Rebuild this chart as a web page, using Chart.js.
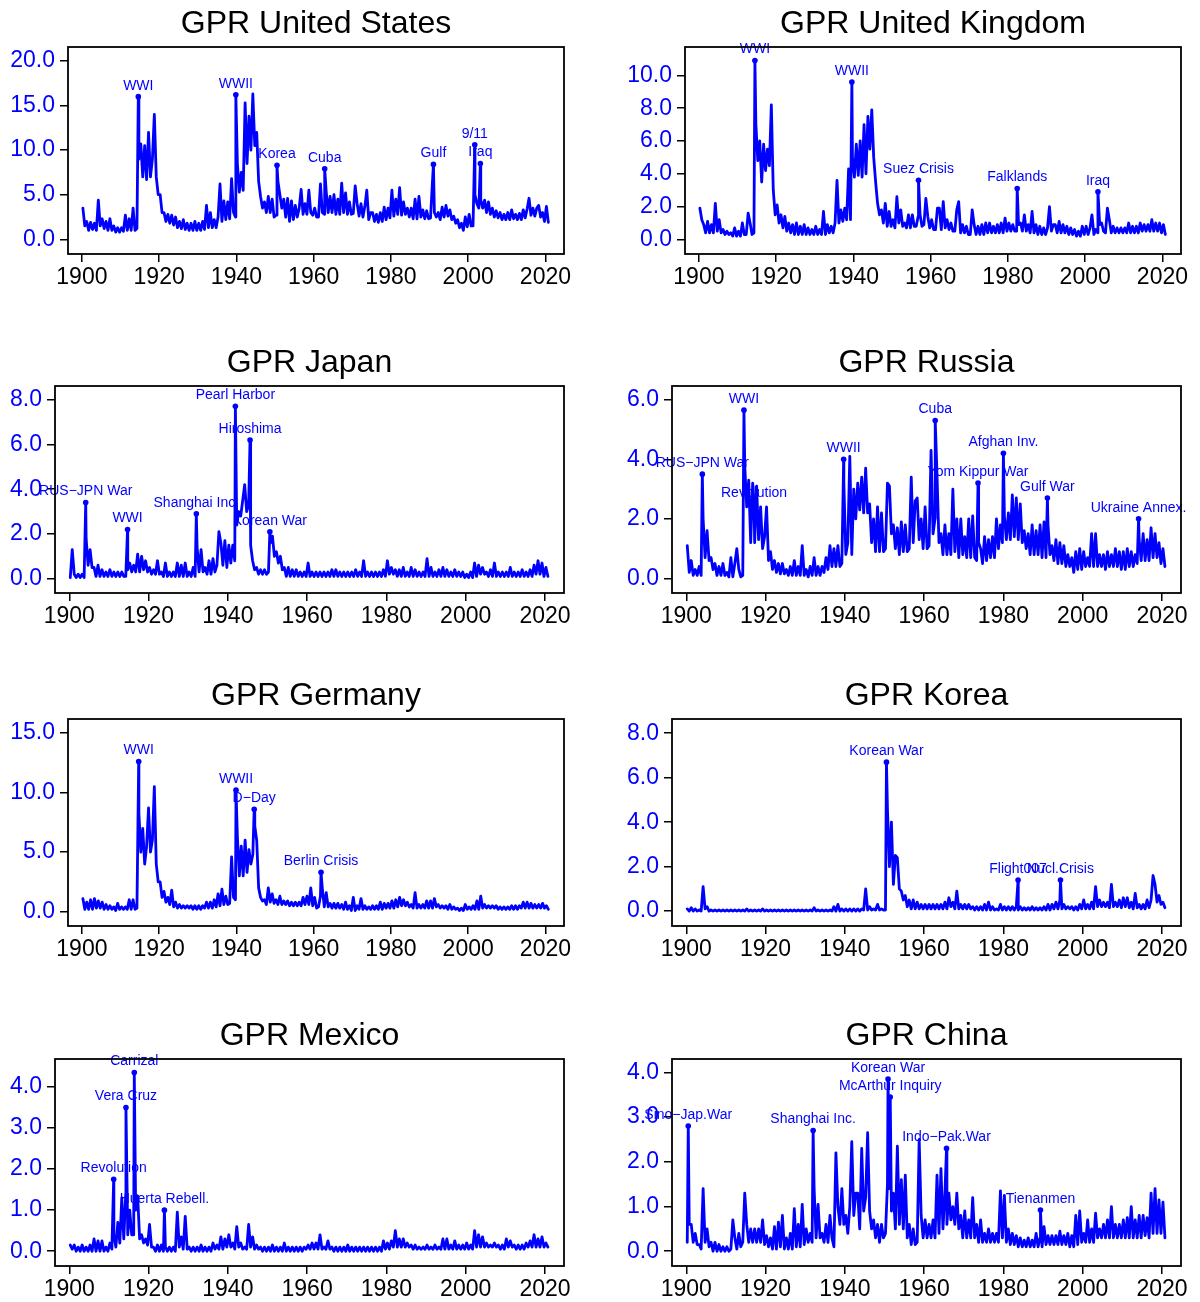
<!DOCTYPE html>
<html>
<head>
<meta charset="utf-8">
<script src="https://cdn.jsdelivr.net/npm/chart.js@4.4.1/dist/chart.umd.min.js"></script>
<style>
  body { margin: 0; background: #fff; width: 1200px; height: 1302px; position: relative; overflow: hidden; }
  canvas { position: absolute; }
</style>
</head>
<body>
<script>
// GPR indices, 1900-2020, two readings per year (first half, second half)
const firstYear = 1900;
const xTicks = [1900, 1920, 1940, 1960, 1980, 2000, 2020];

const gprUS = [
  3.5,1.5, 2.0,1.0, 1.9,1.1, 1.8,1.0, 4.4,1.5, 2.3,1.2, 2.0,1.0, 2.3,1.0, 1.5,0.8, 1.3,0.8,
  1.3,0.9, 2.7,1.0, 2.3,1.0, 3.5,1.0, 1.2,9.0, 10.7,7.0, 10.5,6.7, 12.0,7.0, 9.0,14.0, 7.0,5.0,
  5.0,3.0, 3.0,2.0, 2.8,1.8, 2.7,1.6, 2.5,1.3, 2.0,1.2, 2.2,1.1, 1.8,1.0, 1.8,1.0, 2.0,1.0,
  1.8,1.0, 2.0,1.1, 3.8,1.3, 3.0,1.3, 2.2,1.3, 2.5,6.2, 2.0,4.3, 2.2,4.2, 2.3,6.8, 3.0,2.5,
  8.5,5.3, 7.5,5.5, 15.3,8.5, 13.8,10.0, 16.3,10.5, 12.0,6.5, 4.8,3.5, 4.2,3.0, 4.8,3.0, 4.5,2.5,
  2.7,6.5, 5.0,3.5, 4.5,2.5, 4.6,2.0, 4.3,2.2, 3.8,2.5, 3.5,5.6, 2.8,4.0, 2.8,5.5, 3.0,2.7,
  3.5,2.5, 2.5,6.2, 3.0,2.8, 5.3,3.0, 4.8,3.0, 5.0,2.8, 4.5,2.8, 6.3,3.0, 5.2,2.8, 4.2,2.8,
  2.9,6.0, 4.0,2.6, 4.0,2.5, 3.7,5.5, 2.2,3.0, 3.0,2.0, 2.8,1.9, 3.0,2.0, 3.6,2.2, 3.5,2.4,
  5.5,2.6, 4.5,2.8, 5.8,2.7, 4.2,2.8, 3.5,2.5, 3.5,2.3, 4.5,2.3, 4.8,2.5, 3.3,2.3, 3.2,2.3,
  2.4,6.5, 3.0,2.5, 3.0,2.2, 3.6,2.5, 3.8,2.6, 3.3,2.2, 2.6,1.8, 2.2,1.3, 1.8,1.0, 2.5,1.4,
  2.8,1.5, 1.5,5.0, 4.0,3.5, 4.4,3.5, 4.4,3.0, 4.2,2.8, 3.5,2.5, 3.2,2.4, 3.0,2.2, 2.8,2.2,
  3.0,2.2, 3.3,2.3, 2.8,2.2, 2.9,2.2, 3.3,2.4, 3.4,4.6, 2.7,3.5, 2.6,3.5, 3.8,2.5, 3.0,2.0,
  3.7,1.9
];
const evUS = [['WWI',1914.6,16.0], ['WWII',1939.85,16.2], ['Korea',1950.5,8.3], ['Cuba',1962.85,7.9],
  ['Gulf',1991.0,8.4], ['9/11',2001.7,10.6], ['Iraq',2003.15,8.5]];
const yTicksUS = [0, 5, 10, 15, 20];

const gprUK = [
  1.9,1.2, 0.9,0.4, 1.1,0.4, 0.9,0.4, 2.2,0.5, 1.2,0.4, 0.6,0.3, 0.5,0.3, 0.4,0.2, 0.7,0.2,
  0.5,0.2, 1.0,0.3, 0.3,1.6, 1.0,0.3, 0.4,7.0, 4.8,6.0, 3.5,5.8, 4.2,5.5, 4.5,8.2, 3.0,1.5,
  2.1,1.0, 1.5,0.7, 1.4,0.5, 1.0,0.4, 0.9,0.3, 1.0,0.3, 0.8,0.3, 0.9,0.3, 0.7,0.3, 0.6,0.3,
  0.8,0.3, 0.6,0.3, 1.7,0.3, 0.9,0.4, 0.8,0.4, 1.0,3.6, 1.0,1.8, 1.1,1.9, 1.2,4.3, 1.2,5.0,
  3.8,5.8, 3.9,6.0, 3.8,7.0, 4.0,7.5, 5.5,7.9, 5.0,3.5, 2.2,1.5, 1.8,1.0, 2.2,0.8, 1.7,0.8,
  1.2,0.7, 2.6,1.0, 1.8,0.8, 1.0,0.7, 1.5,0.7, 1.5,0.8, 0.8,1.4, 1.5,0.8, 0.9,2.5, 1.4,0.7,
  1.2,0.6, 0.6,1.9, 1.9,0.6, 2.3,0.7, 1.2,0.6, 1.0,0.5, 0.5,1.8, 2.3,0.4, 0.9,0.4, 0.8,0.3,
  0.3,1.8, 0.9,0.3, 0.8,0.3, 0.9,0.3, 1.0,0.4, 1.0,0.4, 0.8,0.4, 0.9,0.4, 1.0,0.4, 1.3,0.5,
  1.0,0.5, 0.9,0.5, 0.5,0.9, 1.0,0.5, 1.5,0.5, 0.9,0.4, 1.7,0.4, 0.9,0.3, 0.8,0.3, 0.7,0.3,
  0.7,2.0, 0.5,0.9, 0.9,0.4, 1.1,0.4, 0.9,0.4, 0.8,0.3, 0.7,0.3, 0.6,0.2, 0.5,0.2, 0.8,0.3,
  0.8,0.3, 0.7,1.5, 0.3,0.6, 0.4,0.9, 1.0,0.5, 0.4,1.9, 1.2,0.4, 0.8,0.4, 0.7,0.4, 0.7,0.4,
  0.7,0.4, 1.0,0.4, 0.8,0.4, 0.8,0.4, 1.0,0.5, 0.9,0.5, 0.9,0.5, 1.2,0.5, 1.0,0.5, 1.0,0.4,
  0.9,0.3
];
const evUK = [['WWI',1914.5,10.9], ['WWII',1939.6,9.6], ['Suez Crisis',1956.85,3.6],
  ['Falklands',1982.4,3.1], ['Iraq',2003.3,2.9]];
const yTicksUK = [0, 2, 4, 6, 8, 10];

const gprJP = [
  0.05,1.3, 0.2,0.05, 0.2,0.05, 0.2,0.05, 1.8,0.6, 1.3,0.5, 0.5,0.1, 0.6,0.1, 0.4,0.1, 0.3,0.1,
  0.4,0.1, 0.3,0.1, 0.3,0.1, 0.3,0.1, 0.1,0.4, 0.7,0.3, 0.6,0.3, 1.1,0.3, 1.0,0.4, 0.8,0.3,
  0.5,0.2, 0.4,0.2, 0.8,0.2, 0.3,0.1, 0.7,0.1, 0.3,0.1, 0.3,0.1, 0.7,0.1, 0.6,0.1, 0.7,0.1,
  0.3,0.1, 0.5,0.1, 1.4,0.3, 1.3,0.3, 0.5,0.2, 0.8,0.2, 0.9,0.3, 0.6,2.1, 1.6,0.6, 1.7,0.5,
  1.5,0.7, 1.5,0.8, 2.4,3.0, 2.8,3.5, 4.2,3.0, 3.3,1.5, 0.8,0.4, 0.5,0.2, 0.4,0.2, 0.4,0.2,
  0.3,1.6, 1.9,1.0, 1.2,0.7, 1.0,0.4, 0.5,0.1, 0.5,0.1, 0.4,0.1, 0.4,0.1, 0.3,0.1, 0.3,0.1,
  0.7,0.1, 0.3,0.1, 0.3,0.1, 0.3,0.1, 0.3,0.1, 0.3,0.1, 0.4,0.1, 0.4,0.1, 0.3,0.1, 0.3,0.1,
  0.3,0.1, 0.3,0.1, 0.4,0.1, 0.3,0.1, 0.8,0.1, 0.3,0.1, 0.3,0.1, 0.3,0.1, 0.3,0.1, 0.4,0.1,
  0.8,0.2, 0.5,0.2, 0.4,0.1, 0.4,0.1, 0.5,0.1, 0.3,0.1, 0.5,0.1, 0.4,0.1, 0.3,0.1, 0.3,0.1,
  0.9,0.1, 0.5,0.1, 0.3,0.1, 0.4,0.1, 0.5,0.1, 0.4,0.1, 0.3,0.1, 0.4,0.1, 0.3,0.1, 0.3,0.05,
  0.2,0.05, 0.3,0.05, 0.7,0.1, 0.6,0.2, 0.5,0.2, 0.3,0.1, 0.4,0.1, 0.7,0.1, 0.3,0.1, 0.3,0.1,
  0.3,0.1, 0.5,0.1, 0.3,0.1, 0.3,0.1, 0.4,0.1, 0.3,0.1, 0.4,0.1, 0.6,0.2, 0.8,0.2, 0.7,0.1,
  0.5,0.1
];
const evJP = [['RUS\u2212JPN War',1904.15,3.4], ['WWI',1914.7,2.2], ['Shanghai Inc.',1932.05,2.9],
  ['Pearl Harbor',1941.9,7.7], ['Hiroshima',1945.6,6.2], ['Korean War',1950.6,2.1]];
const yTicksJP = [0, 2, 4, 6, 8];

const gprRU = [
  1.1,0.2, 0.6,0.1, 0.3,0.1, 0.4,0.1, 2.0,0.7, 1.6,0.6, 0.7,0.3, 0.5,0.1, 0.4,0.1, 0.5,0.1,
  0.2,0.05, 0.7,0.05, 0.5,1.0, 0.3,0.05, 0.1,3.8, 2.4,3.3, 1.2,3.2, 1.2,3.1, 1.3,2.4, 1.0,1.4,
  2.4,0.6, 0.9,0.3, 0.6,0.2, 0.5,0.15, 0.5,0.15, 0.3,0.1, 0.4,0.1, 0.6,0.1, 0.4,0.1, 1.1,0.1,
  0.3,0.05, 0.4,0.1, 0.7,0.1, 0.4,0.1, 0.4,0.2, 0.7,0.3, 1.1,0.4, 1.0,0.4, 1.1,0.4, 0.5,3.2,
  0.8,1.2, 4.1,0.8, 3.0,2.0, 3.2,2.3, 3.4,2.2, 3.7,2.2, 2.5,1.2, 2.0,0.9, 2.4,0.9, 2.2,0.9,
  1.0,3.2, 3.1,1.5, 1.8,1.0, 1.7,0.8, 1.9,0.9, 1.8,0.9, 1.0,3.4, 1.2,2.6, 2.7,1.3, 2.0,1.0,
  2.4,1.0, 1.1,4.3, 1.5,2.0, 3.5,1.2, 1.5,0.8, 1.8,0.8, 1.5,0.8, 3.0,0.9, 2.0,0.7, 2.0,0.8,
  1.4,0.7, 2.0,0.7, 2.1,0.7, 0.6,1.2, 1.0,0.5, 1.4,0.6, 1.3,0.7, 1.4,0.7, 2.0,1.0, 1.8,1.2,
  2.1,1.3, 2.2,1.3, 2.8,1.4, 2.7,1.3, 2.5,1.2, 1.6,1.0, 1.5,0.8, 1.8,0.8, 1.6,0.8, 1.8,0.7,
  1.9,0.7, 1.8,0.8, 1.1,0.6, 1.3,0.5, 1.2,0.5, 1.1,0.4, 0.8,0.4, 0.7,0.2, 0.9,0.3, 1.0,0.3,
  0.9,0.4, 0.7,0.4, 1.5,0.4, 1.5,0.4, 0.8,0.4, 0.8,0.3, 0.9,0.4, 0.8,0.4, 1.0,0.4, 0.9,0.3,
  0.9,0.3, 1.0,0.4, 0.9,0.4, 0.8,0.5, 1.3,0.6, 1.5,0.6, 1.3,0.6, 1.7,0.7, 1.5,0.7, 1.2,0.5,
  1.0,0.4
];
const evRU = [['RUS\u2212JPN War',1904.05,3.5], ['WWI',1914.55,5.65], ['Revolution',1917.1,2.5],
  ['WWII',1939.7,4.0], ['Cuba',1962.8,5.3], ['Yom Kippur War',1973.6,3.2], ['Afghan Inv.',1980.0,4.2],
  ['Gulf War',1991.1,2.7], ['Ukraine Annex.',2014.1,2.0]];
const yTicksRU = [0, 2, 4, 6];

const gprDE = [
  1.1,0.2, 0.8,0.2, 1.0,0.2, 1.1,0.3, 0.9,0.3, 0.8,0.2, 0.6,0.2, 0.5,0.2, 0.4,0.1, 0.7,0.2,
  0.4,0.2, 0.4,0.2, 1.0,0.2, 1.0,0.2, 0.3,8.3, 5.0,7.0, 4.0,5.5, 8.7,5.0, 6.0,10.5, 4.0,2.5,
  2.5,1.2, 1.7,0.8, 1.2,0.6, 1.8,0.4, 0.8,0.3, 0.6,0.3, 0.5,0.3, 0.5,0.3, 0.5,0.2, 0.5,0.2,
  0.5,0.2, 0.5,0.3, 0.8,0.3, 0.8,0.3, 1.0,0.4, 1.5,0.5, 1.9,0.6, 1.3,0.6, 0.7,4.6, 1.2,1.0,
  6.3,3.0, 5.5,3.0, 6.0,3.3, 5.2,4.0, 4.8,7.2, 6.0,2.0, 1.2,0.9, 1.0,0.6, 2.0,0.8, 1.5,0.7,
  1.0,0.6, 1.3,0.6, 0.9,0.6, 0.9,0.5, 0.8,0.5, 0.8,0.5, 0.8,0.5, 1.2,0.6, 1.3,0.6, 2.0,0.5,
  1.2,0.3, 0.4,1.3, 1.9,0.4, 1.6,0.4, 0.7,0.3, 0.7,0.3, 0.7,0.3, 0.6,0.2, 0.8,0.2, 0.5,0.1,
  1.2,0.1, 0.5,0.2, 1.1,0.2, 0.5,0.2, 0.4,0.2, 0.5,0.2, 0.5,0.2, 0.8,0.2, 0.7,0.3, 0.7,0.3,
  0.9,0.3, 1.0,0.4, 1.2,0.5, 1.0,0.5, 0.8,0.4, 0.6,0.3, 1.6,0.3, 0.6,0.3, 0.6,0.3, 0.9,0.3,
  0.9,0.3, 1.1,0.4, 0.6,0.3, 0.5,0.3, 0.5,0.2, 0.6,0.2, 0.4,0.2, 0.3,0.1, 0.3,0.1, 0.6,0.2,
  0.4,0.2, 0.5,0.2, 0.9,0.2, 1.3,0.3, 0.6,0.3, 0.5,0.3, 0.5,0.3, 0.5,0.2, 0.4,0.2, 0.4,0.2,
  0.4,0.2, 0.5,0.2, 0.5,0.2, 0.5,0.3, 0.8,0.3, 0.8,0.3, 0.7,0.3, 0.6,0.3, 0.6,0.3, 0.7,0.3,
  0.5,0.2
];
const evDE = [['WWI',1914.7,12.6], ['WWII',1939.9,10.2], ['D\u2212Day',1944.6,8.6], ['Berlin Crisis',1961.9,3.3]];
const yTicksDE = [0, 5, 10, 15];

const gprKR = [
  0.1,0.0, 0.15,0.0, 0.1,0.0, 0.05,0.0, 1.1,0.1, 0.2,0.0, 0.05,0.0, 0.05,0.0, 0.05,0.0, 0.05,0.0,
  0.05,0.0, 0.05,0.0, 0.05,0.0, 0.05,0.0, 0.05,0.0, 0.1,0.0, 0.05,0.0, 0.05,0.0, 0.05,0.0, 0.1,0.0,
  0.05,0.0, 0.05,0.0, 0.05,0.0, 0.05,0.0, 0.05,0.0, 0.05,0.0, 0.05,0.0, 0.05,0.0, 0.05,0.0, 0.05,0.0,
  0.05,0.0, 0.05,0.0, 0.15,0.0, 0.05,0.0, 0.05,0.0, 0.05,0.0, 0.05,0.0, 0.2,0.0, 0.3,0.0, 0.1,0.0,
  0.1,0.0, 0.1,0.0, 0.1,0.0, 0.1,0.0, 0.1,0.05, 1.0,0.05, 0.2,0.05, 0.1,0.05, 0.3,0.05, 0.1,0.05,
  0.05,4.6, 2.0,4.0, 1.2,2.5, 2.4,1.0, 0.9,0.5, 0.7,0.2, 0.5,0.1, 0.5,0.1, 0.4,0.1, 0.3,0.1,
  0.3,0.1, 0.3,0.1, 0.3,0.1, 0.3,0.1, 0.3,0.1, 0.4,0.1, 0.6,0.2, 0.4,0.1, 0.9,0.1, 0.3,0.1,
  0.3,0.1, 0.3,0.1, 0.2,0.05, 0.2,0.05, 0.2,0.05, 0.3,0.05, 0.4,0.05, 0.2,0.05, 0.1,0.05, 0.3,0.05,
  0.2,0.05, 0.2,0.05, 0.2,0.05, 0.2,0.05, 0.2,0.05, 0.15,0.05, 0.15,0.05, 0.2,0.05, 0.15,0.05, 0.15,0.05,
  0.2,0.05, 0.3,0.05, 0.3,0.1, 0.4,0.1, 0.5,0.1, 0.3,0.1, 0.2,0.1, 0.2,0.05, 0.2,0.05, 0.3,0.1,
  0.5,0.1, 0.3,0.1, 0.4,0.1, 1.1,0.2, 0.5,0.2, 0.4,0.2, 0.4,0.15, 1.2,0.2, 0.4,0.2, 0.5,0.15,
  0.6,0.2, 0.6,0.15, 0.4,0.1, 0.8,0.15, 0.3,0.1, 0.3,0.1, 0.5,0.15, 0.5,1.6, 1.2,0.4, 0.7,0.3,
  0.4,0.15
];
const evKR = [['Korean War',1950.5,6.7], ['Flight007',1983.7,1.4], ['Nucl.Crisis',1994.4,1.4]];
const yTicksKR = [0, 2, 4, 6, 8];

const gprMX = [
  0.15,0.05, 0.15,0.0, 0.1,0.0, 0.15,0.0, 0.1,0.0, 0.15,0.0, 0.3,0.0, 0.25,0.0, 0.25,0.0, 0.1,0.0,
  0.2,0.05, 0.4,0.1, 0.7,0.2, 1.3,0.3, 1.4,0.4, 1.0,0.4, 0.4,1.0, 1.35,0.3, 0.4,0.2, 0.3,0.15,
  0.65,0.1, 0.1,0.0, 0.15,0.0, 0.15,0.0, 0.1,0.0, 0.1,0.0, 0.1,0.0, 0.95,0.1, 0.35,0.05, 0.85,0.05,
  0.1,0.0, 0.1,0.0, 0.1,0.0, 0.15,0.0, 0.1,0.0, 0.1,0.0, 0.2,0.05, 0.15,0.05, 0.35,0.05, 0.3,0.1,
  0.4,0.1, 0.2,0.05, 0.6,0.1, 0.2,0.05, 0.1,0.05, 0.65,0.1, 0.35,0.05, 0.15,0.05, 0.1,0.0, 0.1,0.0,
  0.1,0.0, 0.15,0.0, 0.1,0.0, 0.1,0.0, 0.2,0.0, 0.1,0.0, 0.1,0.0, 0.1,0.0, 0.1,0.0, 0.1,0.05,
  0.15,0.05, 0.2,0.05, 0.2,0.05, 0.4,0.05, 0.1,0.05, 0.25,0.05, 0.1,0.0, 0.1,0.0, 0.1,0.0, 0.1,0.0,
  0.15,0.0, 0.1,0.0, 0.1,0.0, 0.1,0.0, 0.1,0.0, 0.1,0.0, 0.1,0.0, 0.1,0.0, 0.1,0.0, 0.25,0.05,
  0.2,0.05, 0.25,0.1, 0.5,0.1, 0.3,0.1, 0.3,0.1, 0.2,0.1, 0.15,0.05, 0.15,0.05, 0.1,0.05, 0.1,0.05,
  0.15,0.05, 0.1,0.05, 0.15,0.05, 0.1,0.05, 0.3,0.05, 0.3,0.05, 0.15,0.05, 0.25,0.05, 0.15,0.05, 0.15,0.05,
  0.2,0.05, 0.15,0.05, 0.5,0.1, 0.4,0.1, 0.35,0.1, 0.2,0.1, 0.15,0.1, 0.2,0.1, 0.15,0.05, 0.15,0.05,
  0.3,0.1, 0.25,0.1, 0.15,0.05, 0.15,0.05, 0.15,0.05, 0.2,0.1, 0.25,0.1, 0.4,0.1, 0.3,0.1, 0.35,0.1,
  0.2,0.1
];
const evMX = [['Revolution',1911.2,1.75], ['Vera Cruz',1914.3,3.5], ['Carrizal',1916.4,4.35], ['Huerta Rebell.',1924.0,1.0]];
const yTicksMX = [0, 1, 2, 3, 4];

const gprCN = [
  0.2,0.6, 0.6,0.2, 0.4,0.15, 0.15,0.05, 1.4,0.2, 0.5,0.1, 0.2,0.0, 0.2,0.0, 0.15,0.0, 0.1,0.0,
  0.1,0.0, 0.05,0.7, 0.3,0.05, 0.4,0.1, 0.2,1.3, 0.6,0.2, 0.5,0.2, 0.5,0.2, 0.5,0.2, 0.7,0.15,
  0.35,0.1, 0.3,0.05, 0.55,0.05, 0.65,0.1, 0.8,0.05, 0.3,0.05, 0.4,0.05, 0.95,0.1, 0.6,0.1, 1.05,0.15,
  0.5,0.2, 0.4,0.2, 1.4,0.3, 1.05,0.3, 0.4,0.2, 0.6,0.2, 0.8,0.3, 0.1,2.2, 1.0,0.6, 1.4,0.6,
  0.8,0.4, 1.0,2.45, 0.8,1.3, 1.3,0.5, 2.3,0.9, 1.2,2.65, 0.9,0.5, 0.7,0.3, 0.6,0.2, 0.6,0.3,
  0.4,1.5, 1.4,0.9, 1.3,0.5, 2.35,0.6, 1.6,0.5, 1.7,0.3, 0.6,0.15, 0.5,0.15, 0.2,2.5, 0.8,0.3,
  0.7,0.3, 0.6,0.3, 0.7,0.3, 1.7,0.4, 1.85,0.5, 1.3,0.6, 1.3,0.7, 1.0,0.6, 1.3,0.5, 0.8,0.3,
  0.9,0.3, 0.7,0.3, 1.2,0.3, 0.6,0.2, 0.7,0.2, 0.4,0.2, 0.5,0.2, 0.4,0.2, 0.4,0.2, 1.35,0.3,
  1.25,0.2, 0.5,0.15, 0.4,0.15, 0.35,0.1, 0.3,0.1, 0.25,0.1, 0.3,0.1, 0.25,0.1, 0.4,0.1, 0.3,0.1,
  0.55,0.15, 0.35,0.15, 0.35,0.15, 0.35,0.15, 0.45,0.15, 0.35,0.15, 0.4,0.1, 0.35,0.1, 0.8,0.15, 0.9,0.2,
  0.4,0.2, 0.7,0.2, 0.5,0.2, 0.85,0.3, 0.5,0.3, 0.6,0.3, 0.7,0.3, 1.0,0.3, 0.6,0.3, 0.6,0.3,
  0.7,0.3, 0.75,0.3, 1.0,0.3, 0.7,0.3, 0.8,0.3, 0.8,0.35, 0.75,0.3, 1.3,0.4, 1.4,0.4, 1.15,0.4,
  1.1,0.3
];
const evCN = [['Sino\u2212Jap.War',1900.5,2.8], ['Shanghai Inc.',1932.0,2.7], ['Korean War',1950.9,3.85],
  ['McArthur Inquiry',1951.45,3.45], ['Indo\u2212Pak.War',1965.65,2.3], ['Tienanmen',1989.35,0.92]];
const yTicksCN = [0, 1, 2, 3, 4];

const BLUE = '#0000ff';
const FONT = '"Liberation Sans", Arial, Helvetica, sans-serif';
const TITLE_H = 47, BOX_H = 207, XAXIS_H = 45;

const panels = [
  { title: 'GPR United States', values: gprUS, events: evUS, yTicks: yTicksUS, yMin: -1.65, yMax: 21.57, col: 0,   boxLeft: 68,  boxTop: 47,  boxRight: 564 },
  { title: 'GPR United Kingdom', values: gprUK, events: evUK, yTicks: yTicksUK, yMin: -0.89, yMax: 11.73, col: 600, boxLeft: 685, boxTop: 47,  boxRight: 1181 },
  { title: 'GPR Japan',   values: gprJP, events: evJP, yTicks: yTicksJP, yMin: -0.64, yMax: 8.61,  col: 0,   boxLeft: 55,  boxTop: 386, boxRight: 564 },
  { title: 'GPR Russia',  values: gprRU, events: evRU, yTicks: yTicksRU, yMin: -0.49, yMax: 6.46,  col: 600, boxLeft: 672, boxTop: 386, boxRight: 1181 },
  { title: 'GPR Germany', values: gprDE, events: evDE, yTicks: yTicksDE, yMin: -1.2,  yMax: 16.17, col: 0,   boxLeft: 68,  boxTop: 719, boxRight: 564 },
  { title: 'GPR Korea',   values: gprKR, events: evKR, yTicks: yTicksKR, yMin: -0.67, yMax: 8.64,  col: 600, boxLeft: 672, boxTop: 719, boxRight: 1181 },
  { title: 'GPR Mexico',  values: gprMX, events: evMX, yTicks: yTicksMX, yMin: -0.36, yMax: 4.68,  col: 0,   boxLeft: 55,  boxTop: 1059, boxRight: 564 },
  { title: 'GPR China',   values: gprCN, events: evCN, yTicks: yTicksCN, yMin: -0.33, yMax: 4.30,  col: 600, boxLeft: 672, boxTop: 1059, boxRight: 1181 }
];

// event labels above the marked points, then the plot box on top
function eventLabels(events) {
  return {
    id: 'eventLabels',
    afterDatasetsDraw(chart) {
      const { ctx, chartArea: a, scales: { x, y } } = chart;
      ctx.save();
      ctx.fillStyle = BLUE;
      ctx.font = '14px ' + FONT;
      ctx.textAlign = 'center';
      ctx.textBaseline = 'middle';
      events.forEach(e => ctx.fillText(e[0], x.getPixelForValue(e[1]), y.getPixelForValue(e[2]) - 11));
      ctx.strokeStyle = '#000';
      ctx.lineWidth = 1.8;
      ctx.strokeRect(a.left, a.top, a.right - a.left, a.bottom - a.top);
      ctx.restore();
    }
  };
}

panels.forEach(p => {
  const cv = document.createElement('canvas');
  cv.width = 600;
  cv.height = TITLE_H + BOX_H + XAXIS_H;
  cv.style.left = p.col + 'px';
  cv.style.top = (p.boxTop - TITLE_H) + 'px';
  document.body.appendChild(cv);

  const pts = p.values.map((v, i) => ({ x: firstYear + i / 2 + 0.25, y: v }));
  p.events.forEach(e => pts.push({ x: e[1], y: e[2] }));
  pts.sort((a, b) => a.x - b.x);

  const tickGrid = { drawOnChartArea: false, drawTicks: true, tickLength: 8, color: '#000', lineWidth: 1.5 };

  new Chart(cv, {
    type: 'line',
    data: {
      datasets: [
        { data: pts, borderColor: BLUE, borderWidth: 2.8, borderJoinStyle: 'round', borderCapStyle: 'round',
          pointRadius: 0, tension: 0, fill: false, order: 2 },
        { data: p.events.map(e => ({ x: e[1], y: e[2] })), showLine: false, pointRadius: 2.8,
          pointBackgroundColor: BLUE, pointBorderWidth: 0, order: 1 }
      ]
    },
    options: {
      responsive: false, animation: false, devicePixelRatio: 1,
      layout: { padding: { left: 0, right: 600 - (p.boxRight - p.col), top: 0, bottom: 0 } },
      plugins: {
        legend: { display: false },
        tooltip: { enabled: false },
        title: { display: true, text: p.title, color: '#000', fullSize: false,
          font: { family: FONT, size: 32, weight: 'normal', lineHeight: 1.2 }, padding: { top: 5, bottom: 3.6 } }
      },
      scales: {
        x: {
          type: 'linear', min: 1896.4, max: 2024.8,
          afterBuildTicks: s => { s.ticks = xTicks.map(v => ({ value: v })); },
          afterFit: s => { s.height = XAXIS_H; },
          grid: tickGrid, border: { display: false },
          ticks: { color: '#000', font: { family: FONT, size: 23 }, padding: 2, maxRotation: 0, autoSkip: false,
            callback: v => String(v) }
        },
        y: {
          min: p.yMin, max: p.yMax,
          afterBuildTicks: s => { s.ticks = p.yTicks.map(v => ({ value: v })); },
          afterFit: s => { s.width = p.boxLeft - p.col; },
          grid: tickGrid, border: { display: false },
          ticks: { color: BLUE, font: { family: FONT, size: 23 }, padding: 5, callback: v => v.toFixed(1) }
        }
      }
    },
    plugins: [eventLabels(p.events)]
  });
});
</script>
</body>
</html>
